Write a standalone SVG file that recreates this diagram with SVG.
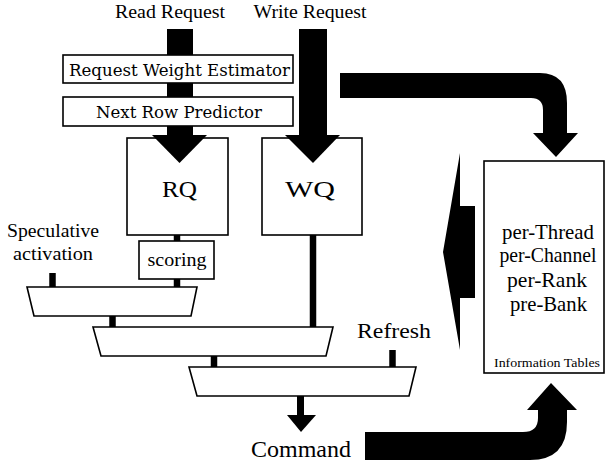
<svg xmlns="http://www.w3.org/2000/svg" width="606" height="468" viewBox="0 0 606 468">
<style>
text{fill:#000;text-anchor:middle}
.box{fill:#fff;stroke:#000;stroke-width:1.6}
.blk{fill:#000;stroke:none}
.wire{stroke:#000;stroke-width:6.5;fill:none}
</style>
<rect width="606" height="468" fill="#fff"/>
<g id="labels" font-family="Liberation Serif, serif">
<text x="170" y="18" font-size="19" textLength="110" lengthAdjust="spacingAndGlyphs">Read Request</text>
<text x="310" y="18" font-size="19" textLength="113" lengthAdjust="spacingAndGlyphs">Write Request</text>
<text x="53" y="237" font-size="19" textLength="92" lengthAdjust="spacingAndGlyphs">Speculative</text>
<text x="53" y="260" font-size="19" textLength="80" lengthAdjust="spacingAndGlyphs">activation</text>
<text x="394" y="338" font-size="21" textLength="74" lengthAdjust="spacingAndGlyphs">Refresh</text>
<text x="301" y="457" font-size="24" textLength="100" lengthAdjust="spacingAndGlyphs">Command</text>
</g>
<g id="connectors">
<rect class="blk" x="167" y="29" width="26" height="108"/>
<rect class="blk" x="299" y="29" width="28" height="108"/>
<path class="blk" d="M340,73 L540,73 Q567,73 567,103 L567,133 L578,133 L556,157 L533,133 L543,133 L543,110 Q543,98 531,98 L340,98 Z"/>
<path class="blk" d="M460,153 L460,206 L475,206 L475,298 L460,298 L460,350 L443,252 Z"/>
<path class="blk" d="M365,432 L523,432 Q538,432 538,418 L538,410 L527,410 L551,383 L577,410 L567,410 L567,422 Q567,460 530,460 L365,460 Z"/>
<line class="wire" x1="177" y1="234" x2="177" y2="242"/>
<line class="wire" x1="177" y1="278" x2="177" y2="288"/>
<line class="wire" x1="52.5" y1="273" x2="52.5" y2="288"/>
<line class="wire" x1="313" y1="234" x2="313" y2="328"/>
<line class="wire" x1="112.5" y1="315" x2="112.5" y2="328"/>
<line class="wire" x1="214" y1="355" x2="214" y2="368"/>
<line class="wire" x1="392.5" y1="350" x2="392.5" y2="368"/>
<rect class="blk" x="297" y="395" width="7" height="21"/>
<path class="blk" d="M287,415 L316,415 L301,432 Z"/>
</g>
<g id="rwe" font-family="DejaVu Serif, serif">
<rect class="box" x="63" y="55" width="230" height="28"/>
<text x="179.5" y="76" font-size="16" textLength="221" lengthAdjust="spacingAndGlyphs">Request Weight Estimator</text>
</g>
<g id="nrp" font-family="DejaVu Serif, serif">
<rect class="box" x="63" y="97" width="230" height="29"/>
<text x="179" y="118" font-size="16" textLength="166" lengthAdjust="spacingAndGlyphs">Next Row Predictor</text>
</g>
<g id="rq" font-family="Liberation Serif, serif">
<rect class="box" x="127" y="138" width="101" height="97"/>
<text x="179.5" y="197" font-size="24" textLength="35" lengthAdjust="spacingAndGlyphs">RQ</text>
</g>
<g id="wq" font-family="Liberation Serif, serif">
<rect class="box" x="262" y="138" width="100" height="97"/>
<text x="310" y="197" font-size="24" textLength="50" lengthAdjust="spacingAndGlyphs">WQ</text>
</g>
<g id="heads">
<path class="blk" d="M152,135 L207,135 L179.5,163 Z"/>
<path class="blk" d="M285,135 L340,135 L313,163 Z"/>
</g>
<g id="scoring" font-family="Liberation Serif, serif">
<rect class="box" x="139" y="241" width="75" height="38"/>
<text x="177" y="266" font-size="19" textLength="59" lengthAdjust="spacingAndGlyphs">scoring</text>
</g>
<g id="mux1">
<path class="box" d="M27,287 L197,287 L191,316 L34,316 Z"/>
</g>
<g id="mux2">
<path class="box" d="M93,327 L333,327 L326,356 L101,356 Z"/>
</g>
<g id="mux3">
<path class="box" d="M189,367 L416,367 L409,396 L197,396 Z"/>
</g>
<g id="info" font-family="Liberation Serif, serif">
<rect class="box" x="484" y="161" width="120" height="212"/>
<text x="548" y="239" font-size="21" textLength="92" lengthAdjust="spacingAndGlyphs">per-Thread</text>
<text x="548" y="262" font-size="21" textLength="97" lengthAdjust="spacingAndGlyphs">per-Channel</text>
<text x="547" y="287" font-size="21" textLength="80" lengthAdjust="spacingAndGlyphs">per-Rank</text>
<text x="548.5" y="311" font-size="21" textLength="77" lengthAdjust="spacingAndGlyphs">pre-Bank</text>
<text x="547" y="367" font-size="13" textLength="106" lengthAdjust="spacingAndGlyphs">Information Tables</text>
</g>
</svg>
